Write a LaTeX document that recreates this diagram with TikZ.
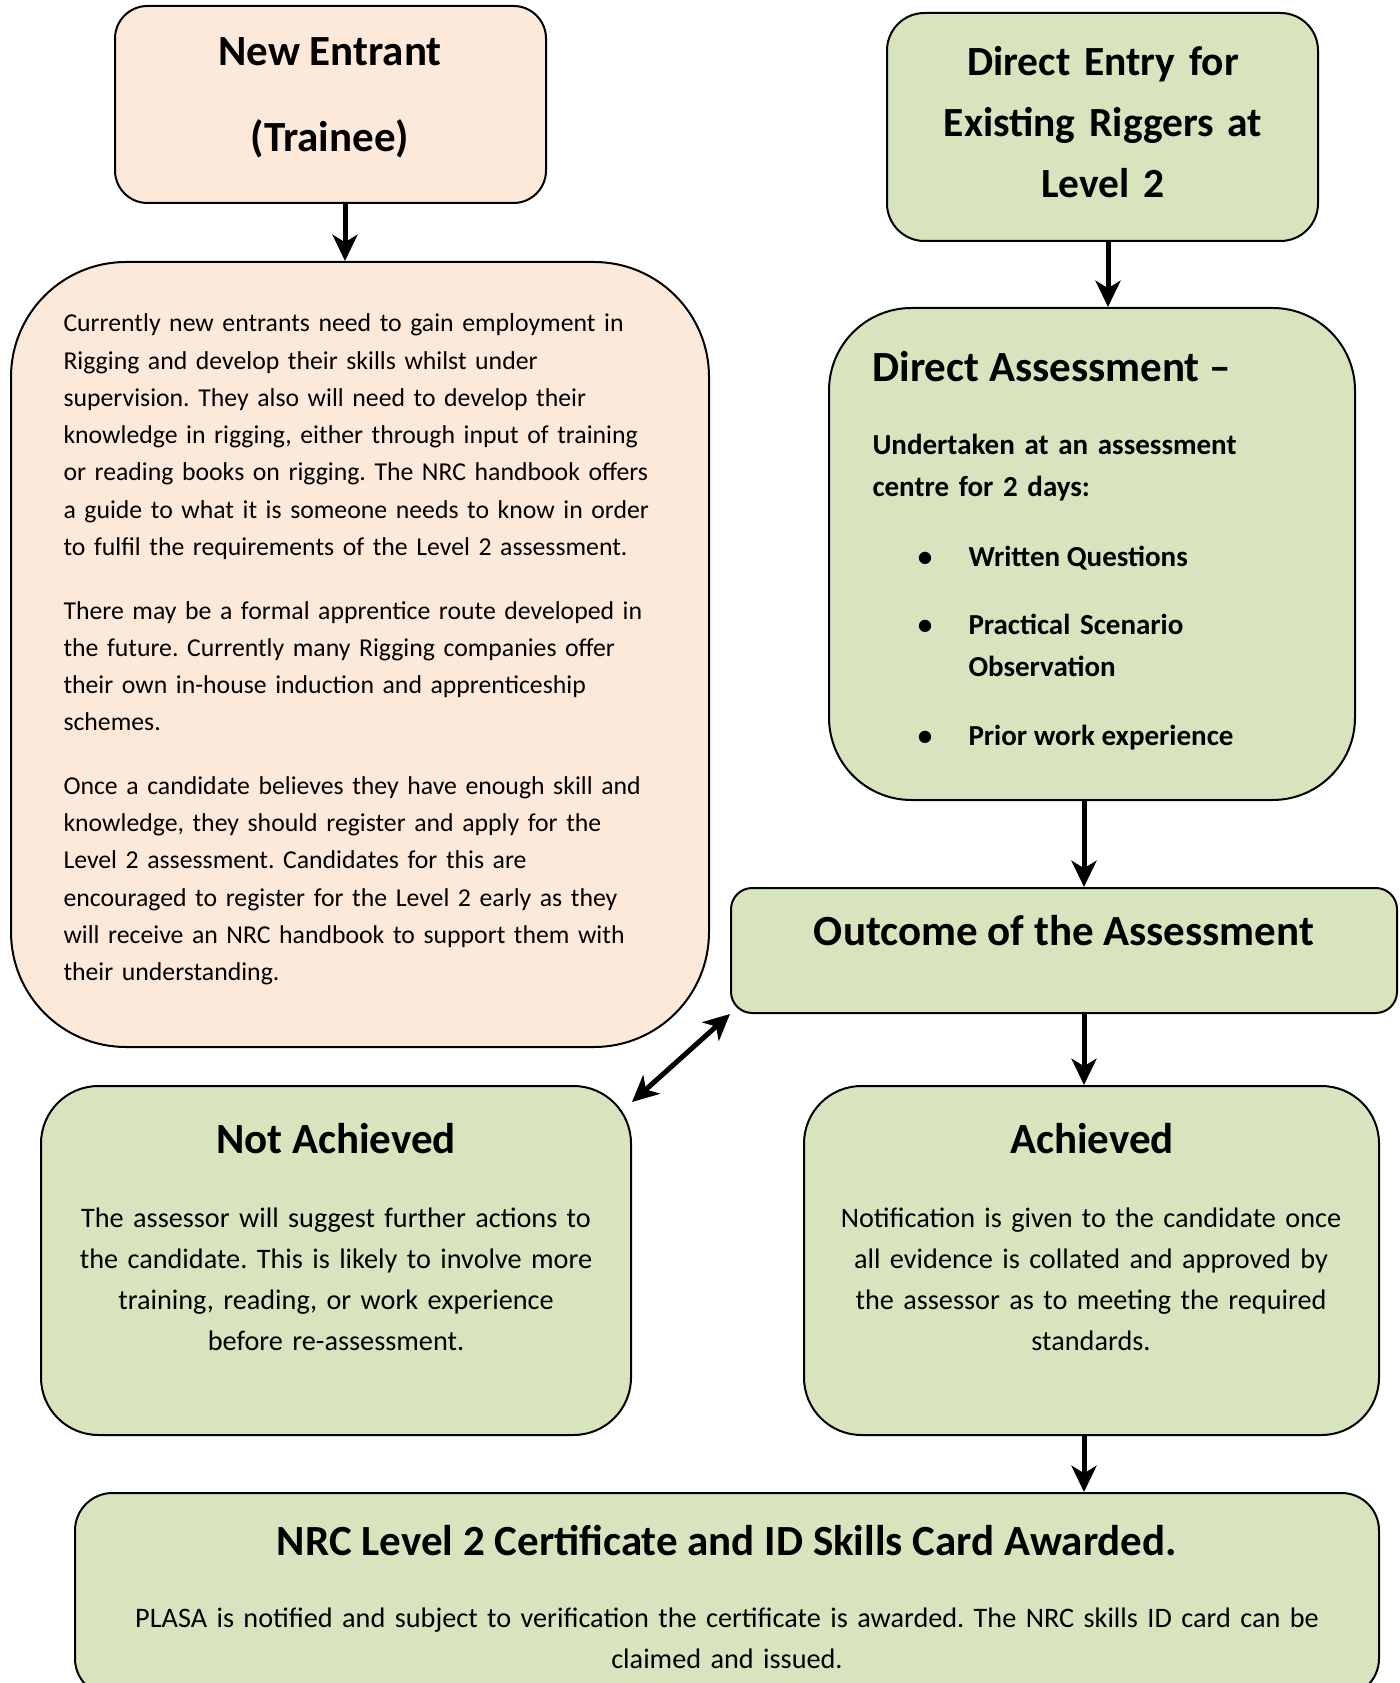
\documentclass[tikz,border=0pt]{standalone}
\usepackage{fontspec}
\setmainfont{Carlito}
\usetikzlibrary{arrows.meta, fit}

\definecolor{boxpeach}{HTML}{FDE9D9}
\definecolor{boxgreen}{HTML}{D7E4BD}

\begin{document}
\frenchspacing
\begin{tikzpicture}[x = 0.4pt, y = -0.4pt,
						>={Stealth[length = 10.5pt, width = 10pt, inset = 3pt]},
						box/.style = {draw = black, line width = 0.8pt, inner sep = 0pt},
						peachbox/.style = {box, fill = boxpeach},
						greenbox/.style = {box, fill = boxgreen},
						flow/.style = {line width = 2pt, ->},
						twoway/.style = {line width = 2pt, <->},
						heading/.style = {font = \fontsize{17.2}{20}\selectfont\bfseries, inner sep = 0pt},
						bodytext/.style = {font = \fontsize{10.3}{14.9}\selectfont, inner sep = 0pt},
						boxtext/.style = {font = \fontsize{11.3}{16.4}\selectfont, inner sep = 0pt},
						boldtext/.style = {font = \fontsize{11.6}{16.8}\selectfont\bfseries, inner sep = 0pt},
						]
	
		% Page size, the award box runs off the bottom
		\useasboundingbox (0, 0) rectangle (1399, 1683);
		\clip (0, 0) rectangle (1399, 1683);
		
		% Boxes
		\node[peachbox, rounded corners = 13pt, fit = {(115, 6) (546, 203)}] (entrant) {};
		\node[peachbox, rounded corners = 46pt, fit = {(11, 262) (709, 1047)}] (intro) {};
		\node[greenbox, rounded corners = 15pt, fit = {(887, 13) (1318, 241)}] (direct) {};
		\node[greenbox, rounded corners = 33pt, fit = {(829, 308) (1355, 800)}] (assess) {};
		\node[greenbox, rounded corners = 8.5pt, fit = {(731, 888) (1397, 1013)}] (outcome) {};
		\node[greenbox, rounded corners = 23pt, fit = {(41, 1086) (631, 1435)}] (notach) {};
		\node[greenbox, rounded corners = 23pt, fit = {(804, 1086) (1379, 1435)}] (ach) {};
		\node[greenbox, rounded corners = 15pt, fit = {(75, 1493) (1379, 1696)}] (award) {};
		
		% Arrow columns
		\coordinate (leftcol) at (345, 0);
		\coordinate (topcol) at (1108, 0);
		\coordinate (midcol) at (1084, 0);
		
		% Arrows
		\draw[flow] (entrant.south -| leftcol) -- (intro.north -| leftcol);
		\draw[flow] (direct.south -| topcol) -- (assess.north -| topcol);
		\draw[flow] (assess.south -| midcol) -- (outcome.north -| midcol);
		\draw[flow] (outcome.south -| midcol) -- (ach.north -| midcol);
		\draw[flow] (ach.south -| midcol) -- (award.north -| midcol);
		\draw[twoway] (outcome.south west) -- ([yshift = -6.8pt]notach.north east);
		
		% New entrant
		\node[heading, anchor = base] (entrantA) at (330, 66) {New Entrant};
		\node[heading, anchor = base] (entrantB) at (330, 152) {(Trainee)};
		
		\node[bodytext, anchor = base west, text width = 250pt, align = left] (introtext) at (63, 332) {%
			Currently new entrants need to gain employment in\\
			Rigging and develop their skills whilst under\\
			supervision. They also will need to develop their\\
			knowledge in rigging, either through input of training\\
			or reading books on rigging. The NRC handbook offers\\
			a guide to what it is someone needs to know in order\\
			to fulfil the requirements of the Level 2 assessment.\\[10.5pt]
			There may be a formal apprentice route developed in\\
			the future. Currently many Rigging companies offer\\
			their own in-house induction and apprenticeship\\
			schemes.\\[10.5pt]
			Once a candidate believes they have enough skill and\\
			knowledge, they should register and apply for the\\
			Level 2 assessment. Candidates for this are\\
			encouraged to register for the Level 2 early as they\\
			will receive an NRC handbook to support them with\\
			their understanding.};
		
		% Direct entry
		\node[heading, anchor = base, text width = 180pt, align = center,
			font = \fontsize{16.6}{24.4}\selectfont\bfseries] (directtext) at (1103, 76) {%
			Direct Entry for\\ Existing Riggers at\\ Level 2};
		
		\node[heading, anchor = base west] (assesshead) at (872, 382) {Direct Assessment --};
		\node[boldtext, anchor = base west, text width = 170pt, align = left] (assesstext) at (872, 455) {%
			Undertaken at an assessment\\ centre for 2 days:};
		
		% Bullet list
		\node[boldtext, anchor = base] (bulletA) at (925, 567) {\textbullet};
		\node[boldtext, anchor = base] (bulletB) at (925, 635) {\textbullet};
		\node[boldtext, anchor = base] (bulletC) at (925, 745) {\textbullet};
		\node[boldtext, anchor = base west] (itemA) at (968, 567) {Written Questions};
		\node[boldtext, anchor = base west, text width = 150pt, align = left] (itemB) at (968, 635) {%
			Practical Scenario\\ Observation};
		\node[boldtext, anchor = base west] (itemC) at (968, 745) {Prior work experience};
		
		% Outcome
		\node[heading, anchor = base] (outcometext) at (1064, 945) {Outcome of the Assessment};
		
		\node[heading, anchor = base] (notachhead) at (336, 1153) {Not Achieved};
		\node[boxtext, anchor = base, text width = 230pt, align = center] (notachtext) at (336, 1227) {%
			The assessor will suggest further actions to\\
			the candidate. This is likely to involve more\\
			training, reading, or work experience\\
			before re-assessment.};
		
		\node[heading, anchor = base] (achhead) at (1092, 1153) {Achieved};
		\node[boxtext, anchor = base, text width = 230pt, align = center] (achtext) at (1091, 1227) {%
			Notification is given to the candidate once\\
			all evidence is collated and approved by\\
			the assessor as to meeting the required\\
			standards.};
		
		% Award
		\node[heading, anchor = base] (awardhead) at (727, 1555) {NRC Level 2 Certificate and ID Skills Card Awarded.};
		\node[boxtext, anchor = base, text width = 500pt, align = center] (awardtext) at (727, 1627) {%
			PLASA is notified and subject to verification the certificate is awarded. The NRC skills ID card can be\\
			claimed and issued.};
		
	\end{tikzpicture}
\end{document}
